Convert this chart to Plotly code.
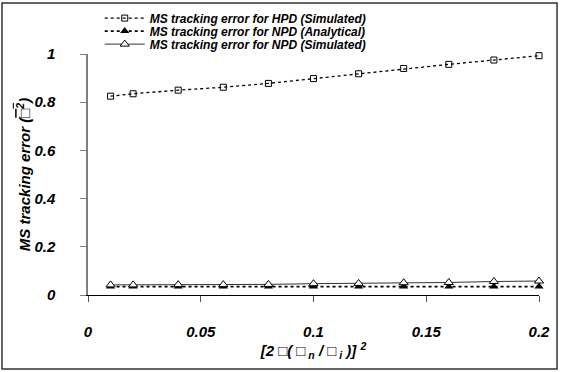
import plotly.graph_objects as go

x_vals = [0.01, 0.02, 0.04, 0.06, 0.08, 0.1, 0.12, 0.14, 0.16, 0.18, 0.2]
hpd_sim = [0.825, 0.835, 0.85, 0.862, 0.878, 0.898, 0.918, 0.94, 0.957, 0.975, 0.993]
npd_ana = [0.035, 0.035, 0.035, 0.035, 0.035, 0.035, 0.035, 0.035, 0.035, 0.035, 0.035]
npd_sim = [0.042, 0.042, 0.043, 0.043, 0.044, 0.047, 0.048, 0.051, 0.052, 0.056, 0.058]
x_ticks = [0, 0.05, 0.1, 0.15, 0.2]
x_tick_text = ["0", "0.05", "0.1", "0.15", "0.2"]
y_ticks = [0, 0.2, 0.4, 0.6, 0.8, 1]
y_tick_text = ["0", "0.2", "0.4", "0.6", "0.8", "1"]
names = ["MS tracking error for HPD (Simulated)",
         "MS tracking error for NPD (Analytical)",
         "MS tracking error for NPD (Simulated)"]

fig = go.Figure()
fig.add_trace(go.Scatter(
    x=x_vals, y=hpd_sim, name=f"<b><i>{names[0]}</i></b>", mode="lines+markers", legend="legend",
    line=dict(color="black", width=1.3, dash="dot"),
    marker=dict(symbol="square-open", size=6, color="black", line=dict(width=1)),
))
fig.add_trace(go.Scatter(
    x=x_vals, y=npd_ana, name=f"<b><i>{names[1]}</i></b>", mode="lines+markers", legend="legend2",
    line=dict(color="black", width=1.8, dash="3px,3px"),
    marker=dict(symbol="triangle-up", size=8, color="black"),
))
fig.add_trace(go.Scatter(
    x=x_vals, y=npd_sim, name=f"<b><i>{names[2]}</i></b>", mode="lines+markers", legend="legend3",
    line=dict(color="#333333", width=1),
    marker=dict(symbol="triangle-up", size=8, color="white", line=dict(color="black", width=1)),
))

font_lbl = dict(family="Liberation Sans, Arial", size=15, color="black")
leg_font = dict(family="Liberation Sans, Arial", size=12, color="black")

def leg(yc):
    return dict(x=0.026, y=yc, xanchor="left", yanchor="middle", font=leg_font,
                bgcolor="rgba(0,0,0,0)", itemwidth=40, borderwidth=0)

fig.update_layout(
    width=562, height=372,
    margin=dict(l=88, r=23, t=54, b=77, autoexpand=False),
    paper_bgcolor="white", plot_bgcolor="white",
    showlegend=True,
    legend=leg(1.149),
    legend2=leg(1.095),
    legend3=leg(1.041),
    xaxis=dict(
        range=[0, 0.2], tickvals=x_ticks, ticktext=[f"<b><i>{t}</i></b>" for t in x_tick_text],
        showgrid=False, zeroline=False, showline=True, linecolor="black", linewidth=1,
        ticks="outside", ticklen=6, tickcolor="#555555", tickfont=font_lbl,
        ticklabelstandoff=17,
        title=dict(text="<b><i>[2 □( □<sub> n</sub> / □<sub> i</sub> )] <sup>2</sup></i></b>",
                   font=dict(family="Liberation Sans, Arial", size=15, color="black"), standoff=6),
    ),
    yaxis=dict(
        range=[0, 1], tickvals=y_ticks, ticktext=[f"<b><i>{t}</i></b>" for t in y_tick_text],
        showgrid=False, zeroline=False, showline=True, linecolor="#7f7f7f", linewidth=1.5,
        ticks="outside", ticklen=6, tickcolor="#7f7f7f", tickfont=font_lbl,
        ticklabelstandoff=22,
        title=dict(text="<b><i>MS tracking error (<span style='text-decoration:overline'>□<sup>2</sup></span>)</i></b>",
                   font=dict(family="Liberation Sans, Arial", size=15, color="black"), standoff=0),
    ),
)
for t in fig.data:
    t.cliponaxis = False

fig.add_shape(type="rect", xref="paper", yref="paper",
              x0=-0.1907, x1=1.04, y0=-0.307, y1=1.2116,
              line=dict(color="#333333", width=1.5), fillcolor="rgba(0,0,0,0)", layer="below")

fig.write_html("out.html")
